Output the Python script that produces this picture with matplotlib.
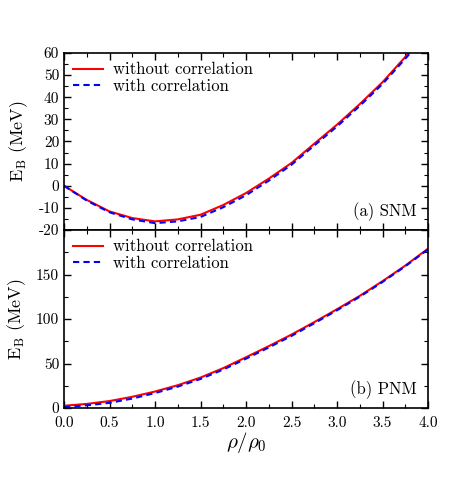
import numpy as np
import matplotlib
matplotlib.use("Agg")
import matplotlib.pyplot as plt
from matplotlib.ticker import MultipleLocator

plt.rcParams['font.family'] = 'serif'
plt.rcParams['font.serif'] = ['cmr10']
plt.rcParams['mathtext.fontset'] = 'cm'
plt.rcParams['axes.unicode_minus'] = False
plt.rcParams['axes.formatter.use_mathtext'] = False

# density in units of rho_0
rho = [0.0, 0.25, 0.5, 0.75, 1.0, 1.25, 1.5, 1.75, 2.0, 2.25, 2.5, 2.75, 3.0, 3.25, 3.5, 3.75, 4.0]

# symmetric nuclear matter (MeV)
snm_without = [0.0, -6.4, -11.6, -14.6, -16.1, -15.2, -13.1, -8.7, -3.3, 3.2, 10.3, 19.0, 27.6, 36.9, 46.8, 58.2, 70.0]
snm_with = [0.0, -6.7, -12.0, -15.2, -16.9, -16.1, -14.1, -9.7, -4.3, 2.3, 9.5, 18.2, 26.8, 36.1, 46.0, 57.4, 69.2]

# pure neutron matter (MeV)
pnm_without = [2.5, 4.6, 7.8, 12.6, 18.5, 25.6, 34.2, 44.8, 57.0, 69.5, 82.5, 96.5, 111.0, 126.0, 142.5, 160.0, 179.0]
pnm_with = [1.0, 3.0, 5.8, 10.6, 16.8, 24.0, 32.6, 43.2, 55.4, 68.0, 81.0, 95.2, 109.8, 125.0, 141.6, 159.2, 178.2]

fig = plt.figure(figsize=(4.71, 4.98), dpi=100)
ax1 = fig.add_axes([64/471, 1-230/498, 364/471, 177/498])
ax2 = fig.add_axes([64/471, 1-408/498, 364/471, 178/498])

fs = 11

for ax, y1, y2, tag in [(ax1, snm_without, snm_with, "(a) SNM"),
                         (ax2, pnm_without, pnm_with, "(b) PNM")]:
    ax.plot(rho, y1, color="red", lw=1.5, label="without correlation")
    ax.plot(rho, y2, color="blue", lw=1.5, ls=(0, (3, 2)), label="with correlation")
    ax.set_xlim(0, 4)
    ax.xaxis.set_major_locator(MultipleLocator(0.5))
    ax.xaxis.set_minor_locator(MultipleLocator(0.25))
    ax.tick_params(which='both', direction='in', top=True, right=True, labelsize=fs)
    ax.tick_params(which='major', length=5, width=1)
    ax.tick_params(which='minor', length=3, width=0.8)
    ax.tick_params(axis='x', pad=6)
    for s in ax.spines.values():
        s.set_linewidth(1.2)
    ax.set_ylabel(r"$\mathrm{E_B}$ (MeV)", fontsize=13, labelpad=6)
    ax.legend(loc="upper left", frameon=False, fontsize=12, handlelength=1.8,
              handletextpad=0.6, borderaxespad=0.15, labelspacing=0.05)
    ax.text(0.97, 0.05, tag, transform=ax.transAxes, ha='right', va='bottom', fontsize=12)

ax1.set_ylim(-20, 60)
ax1.yaxis.set_major_locator(MultipleLocator(10))
ax1.yaxis.set_minor_locator(MultipleLocator(5))
ax1.tick_params(labelbottom=False)

ax2.set_ylim(0, 200)
ax2.set_yticks([0, 50, 100, 150, 200])
ax2.set_yticklabels(["0", "50", "100", "150", ""])
ax2.yaxis.set_minor_locator(MultipleLocator(25))
ax2.xaxis.set_major_formatter(plt.FuncFormatter(lambda v, p: f"{v:.1f}"))
ax2.set_xlabel(r"$\rho/\rho_0$", fontsize=15, labelpad=0)

fig.savefig("out.png", dpi=100)
